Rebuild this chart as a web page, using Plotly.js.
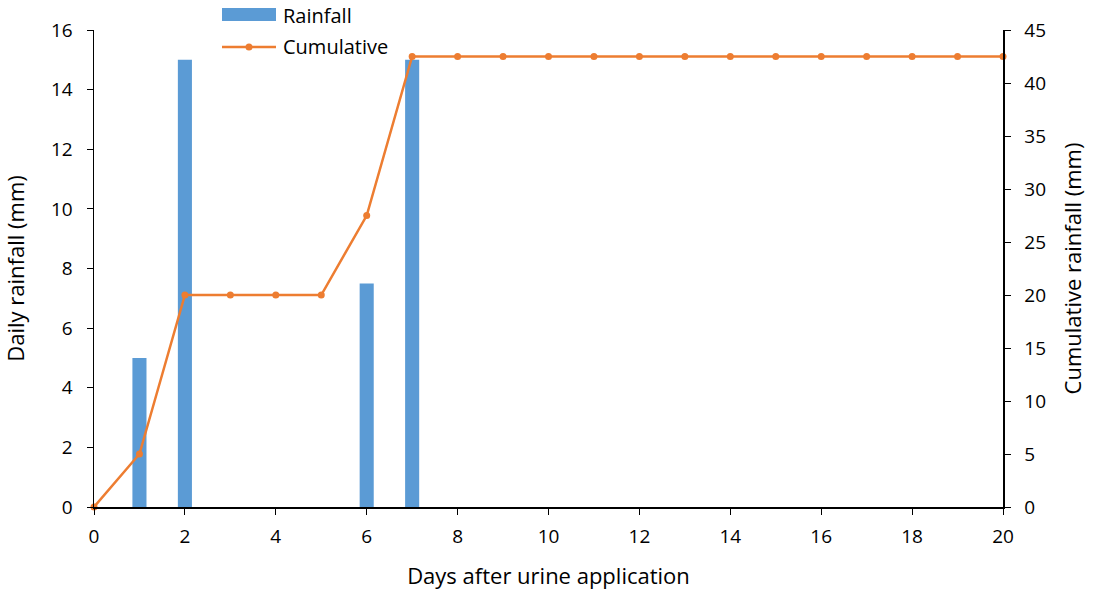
<!DOCTYPE html>
<html>
<head>
<meta charset="utf-8">
<script src="https://cdn.plot.ly/plotly-3.0.1.min.js"></script>
<style>html,body{margin:0;padding:0;background:#fff;}#chart{width:1095px;height:596px;}</style>
</head>
<body>
<div id="chart"></div>
<script>
const rainDays = [1, 2, 6, 7];
const rainfall = [5, 15, 7.5, 15];
const days = [0,1,2,3,4,5,6,7,8,9,10,11,12,13,14,15,16,17,18,19,20];
const cumulative = [0,5,20,20,20,20,27.5,42.5,42.5,42.5,42.5,42.5,42.5,42.5,42.5,42.5,42.5,42.5,42.5,42.5,42.5];
const seriesNames = ['Rainfall', 'Cumulative'];

const fam = 'Open Sans, Liberation Sans, sans-serif';
const blue = '#5b9bd5', orange = '#ed7d31';

const data = [
  {type: 'bar', x: rainDays, y: rainfall, name: seriesNames[0], width: 0.31,
   marker: {color: blue}, xaxis: 'x', yaxis: 'y'},
  {type: 'scatter', mode: 'lines+markers', x: days, y: cumulative, name: seriesNames[1],
   line: {color: orange, width: 2.5}, marker: {color: orange, size: 7},
   xaxis: 'x', yaxis: 'y2', cliponaxis: false}
];

// legend drawn in paper coordinates
const px = v => (v - 94) / 909;
const py = v => (507 - v) / 477;

const axisCommon = {showgrid: false, zeroline: false, showline: true, linecolor: '#000', linewidth: 1.5,
  ticks: 'outside', ticklen: 6, tickcolor: '#000', tickfont: {size: 19}};

const layout = {
  width: 1095, height: 596,
  margin: {l: 94, r: 92, t: 30, b: 89, autoexpand: false},
  paper_bgcolor: '#fff', plot_bgcolor: '#fff',
  font: {family: fam, size: 19, color: '#000'},
  showlegend: false,
  xaxis: Object.assign({}, axisCommon, {range: [0, 20], tickvals: [0,2,4,6,8,10,12,14,16,18,20],
          ticklabelstandoff: 6,
          title: {text: 'Days after urine application', font: {size: 22}, standoff: 20}}),
  yaxis: Object.assign({}, axisCommon, {range: [0, 16], dtick: 2, ticklabelstandoff: 10,
          title: {text: 'Daily rainfall (mm)', font: {size: 22}, standoff: 20}}),
  yaxis2: Object.assign({}, axisCommon, {range: [0, 45], dtick: 5, overlaying: 'y', side: 'right',
          ticklabelstandoff: 10,
          title: {text: 'Cumulative rainfall (mm)', font: {size: 22}, standoff: 20}}),
  shapes: [
    {type: 'rect', xref: 'paper', yref: 'paper', x0: px(222), x1: px(276), y0: py(21), y1: py(8),
     fillcolor: blue, line: {width: 0}},
    {type: 'line', xref: 'paper', yref: 'paper', x0: px(222), x1: px(276), y0: py(47), y1: py(47),
     line: {color: orange, width: 2.5}},
    {type: 'circle', xref: 'paper', yref: 'paper', x0: px(245.5), x1: px(252.5), y0: py(50.5), y1: py(43.5),
     fillcolor: orange, line: {color: orange, width: 0}}
  ],
  annotations: [
    {xref: 'paper', yref: 'paper', x: px(281), y: py(15), xanchor: 'left', yanchor: 'middle', showarrow: false,
     text: seriesNames[0], font: {size: 20}},
    {xref: 'paper', yref: 'paper', x: px(281), y: py(46), xanchor: 'left', yanchor: 'middle', showarrow: false,
     text: seriesNames[1], font: {size: 20}}
  ]
};

Plotly.newPlot('chart', data, layout, {displayModeBar: false, staticPlot: true});
</script>
</body>
</html>
